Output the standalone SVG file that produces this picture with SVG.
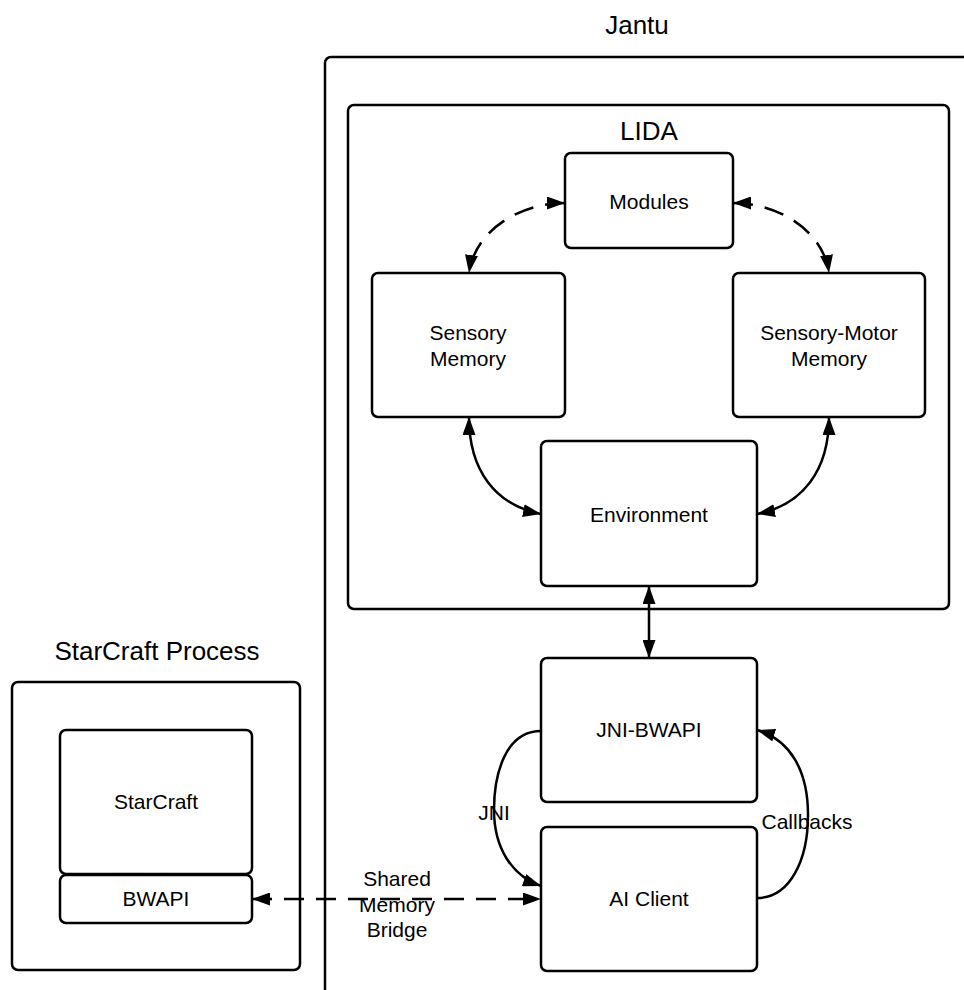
<svg xmlns="http://www.w3.org/2000/svg" width="964" height="990" viewBox="0 0 964 990">
<style>
.box{fill:#fff;stroke:#000;stroke-width:2.5}
.cont{fill:none;stroke:#000;stroke-width:2.5}
.t{font-family:"Liberation Sans",Arial,sans-serif;font-size:21px;fill:#000;text-anchor:middle}
.title{font-family:"Liberation Sans",Arial,sans-serif;font-size:26px;fill:#000;text-anchor:middle}
.c{fill:none;stroke:#000;stroke-width:2.5}
.d{stroke-dasharray:20 12}
</style>
<defs>
<marker id="ah" viewBox="0 0 18 13" refX="18" refY="6.5" markerWidth="18" markerHeight="13" markerUnits="userSpaceOnUse" orient="auto-start-reverse">
<path d="M0,0 L18,6.5 L0,13 Z" fill="#000"/>
</marker>
</defs>
<rect width="964" height="990" fill="#fff"/>
<g id="jantu">
<rect class="cont" x="325" y="57" width="720" height="1000" rx="6"/>
<text class="title" x="637" y="34">Jantu</text>
</g>
<g id="lida">
<rect class="cont" x="348" y="105" width="601" height="504" rx="6"/>
<text class="title" x="649" y="140">LIDA</text>
</g>
<g id="starcraft-process">
<rect class="cont" x="12" y="682" width="288" height="288" rx="6"/>
<text class="title" x="157" y="660">StarCraft Process</text>
</g>
<g id="modules">
<rect class="box" x="565" y="153" width="168" height="95" rx="6"/>
<text class="t" x="649" y="209">Modules</text>
</g>
<g id="sensory-memory">
<rect class="box" x="372" y="273" width="193" height="144" rx="6"/>
<text class="t" x="468" y="340">Sensory</text>
<text class="t" x="468" y="366">Memory</text>
</g>
<g id="sensory-motor-memory">
<rect class="box" x="733" y="273" width="192" height="144" rx="6"/>
<text class="t" x="829" y="340">Sensory-Motor</text>
<text class="t" x="829" y="366">Memory</text>
</g>
<g id="environment">
<rect class="box" x="541" y="441" width="216" height="145" rx="6"/>
<text class="t" x="649" y="522">Environment</text>
</g>
<g id="jni-bwapi">
<rect class="box" x="541" y="658" width="216" height="144" rx="6"/>
<text class="t" x="649" y="737">JNI-BWAPI</text>
</g>
<g id="ai-client">
<rect class="box" x="541" y="827" width="216" height="144" rx="6"/>
<text class="t" x="649" y="906">AI Client</text>
</g>
<g id="starcraft">
<rect class="box" x="60" y="730" width="192" height="144" rx="6"/>
<text class="t" x="156" y="809">StarCraft</text>
</g>
<g id="bwapi">
<rect class="box" x="60" y="875" width="192" height="48" rx="6"/>
<text class="t" x="156" y="906">BWAPI</text>
</g>
<g id="connectors">
<path class="c d" d="M565,203 C520,203 475,230 469,273" marker-start="url(#ah)" marker-end="url(#ah)"/>
<path class="c d" d="M733,203 C778,203 823,230 829,273" marker-start="url(#ah)" marker-end="url(#ah)"/>
<path class="c" d="M469,417 C469,470 495,505 541,514" marker-start="url(#ah)" marker-end="url(#ah)"/>
<path class="c" d="M829,417 C829,470 803,505 757,514" marker-start="url(#ah)" marker-end="url(#ah)"/>
<path class="c" d="M649,586 L649,658" marker-start="url(#ah)" marker-end="url(#ah)"/>
<path class="c" d="M541,731 C505,731 494,775 494,810 C494,848 512,876 541,886" marker-end="url(#ah)"/>
<path class="c" d="M757,898 C790,898 808,860 808,815 C808,770 790,740 757,730" marker-end="url(#ah)"/>
<path class="c d" d="M252,899 L541,899" marker-start="url(#ah)" marker-end="url(#ah)"/>
<text class="t" x="494" y="820">JNI</text>
<text class="t" x="807" y="829">Callbacks</text>
<text class="t" x="397" y="886">Shared</text>
<text class="t" x="397" y="912">Memory</text>
<text class="t" x="397" y="937">Bridge</text>
</g>
</svg>
